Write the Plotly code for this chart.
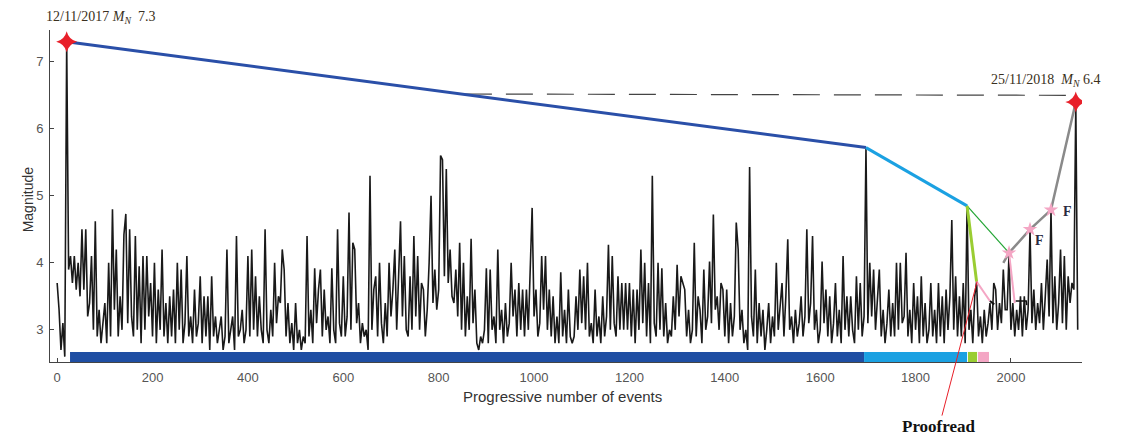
import plotly.graph_objects as go

# ---------------- data ----------------
EVENT_STEP = 4  # one value every 4 events (event number = 4 * index)
mag_0000 = [3.7,3.3,2.7,3.1,2.6,7.3,3.9,4.1,3.7,4.1,3.6,4.0,3.5,4.5,3.6,4.5,3.2,3.4,4.1,3.0,4.62,2.9,3.3,2.8,3.1]
mag_0100 = [3.4,2.8,4.0,2.9,4.8,3.3,4.2,2.9,3.5,3.0,4.42,4.73,3.1,4.5,3.2,2.9,4.4,3.0,3.95,2.8,4.1,3.0,4.1,3.2,3.7]
mag_0200 = [2.9,4.0,2.8,3.6,3.0,4.2,2.9,3.4,2.8,3.5,2.9,3.6,2.8,4.0,3.0,3.9,2.8,3.1,4.1,2.9,3.2,2.8,3.6,2.9,3.1]
mag_0300 = [3.8,2.8,3.5,2.9,3.5,2.7,3.8,2.9,3.2,2.8,3.0,3.2,2.7,2.9,4.2,2.8,3.0,3.2,2.7,4.4,2.9,3.0,3.3,2.8,3.0]
mag_0400 = [4.1,2.9,4.2,3.0,3.8,2.9,3.5,3.0,2.8,4.5,3.0,2.8,3.3,2.9,4.0,3.1,3.5,3.4,4.2,3.9,2.9,3.4,2.8,3.1,2.7]
mag_0500 = [3.4,2.8,3.0,2.7,2.9,2.8,4.4,2.9,3.3,2.8,3.92,3.1,3.6,3.9,2.9,3.6,3.0,3.2,2.8,3.92,3.0,2.8,4.5,3.1,2.9]
mag_0600 = [3.8,2.9,3.2,4.75,3.0,4.3,4.2,3.1,3.4,2.8,3.1,2.9,3.0,2.7,5.3,3.0,3.6,3.8,2.9,4.0,3.1,2.8,3.4,2.9,4.0]
mag_0700 = [3.2,3.6,4.2,3.0,3.8,4.62,3.2,4.1,3.0,2.9,3.8,3.0,4.4,3.2,4.1,3.0,3.7,3.6,2.9,3.3,4.0,5.0,3.4,3.9,3.3]
mag_0800 = [3.6,5.6,5.54,3.8,5.4,3.7,4.2,3.5,3.4,3.9,3.2,4.3,3.0,4.0,2.9,3.5,3.0,4.36,3.1,3.6,2.8,2.7,2.9,2.8,3.0]
mag_0900 = [3.92,2.8,3.9,3.0,3.2,2.8,4.2,3.0,3.3,2.8,3.4,2.9,3.1,4.0,3.2,3.6,2.9,3.7,3.0,3.6,2.9,3.6,3.0,4.0,4.82]
mag_1000 = [3.2,3.6,2.9,3.1,4.1,3.3,4.1,3.0,3.6,2.9,3.5,2.8,3.2,2.8,3.86,2.9,3.3,2.8,3.6,2.9,2.8,2.9,3.5,3.0,3.9]
mag_1100 = [3.1,3.8,3.0,4.0,2.9,3.1,2.8,3.6,2.9,3.2,2.8,3.5,2.9,3.2,4.27,3.0,4.1,3.1,2.9,3.8,3.0,3.7,3.0,3.7,3.0]
mag_1200 = [3.7,2.9,3.6,2.8,3.6,3.0,4.2,3.1,4.0,2.9,3.7,2.8,5.3,3.1,2.9,4.0,3.0,3.92,2.9,3.4,2.8,3.0,2.9,3.5,3.0]
mag_1300 = [3.97,3.2,3.8,3.7,3.6,2.9,3.3,2.8,3.0,4.3,2.9,3.5,3.3,2.8,3.9,3.0,3.2,4.02,3.1,4.72,3.3,3.5,3.0,3.7,3.6]
mag_1400 = [2.9,3.6,2.8,3.4,2.9,3.2,4.6,4.2,3.0,3.3,2.8,3.0,2.7,5.43,3.2,2.9,3.9,2.8,3.4,2.9,3.3,2.7,3.0,3.4,2.8]
mag_1500 = [3.2,2.9,4.0,3.0,3.3,3.7,2.9,3.5,4.35,3.0,3.2,2.8,3.3,2.9,3.1,3.5,2.9,3.2,4.5,3.1,3.4,4.4,3.0,3.3,2.8]
mag_1600 = [3.0,4.02,3.1,3.6,2.9,3.5,2.8,3.1,3.7,2.9,3.3,2.8,4.1,3.0,3.5,2.9,3.5,3.0,2.8,3.8,3.0,3.7,2.9,3.2,5.72]
mag_1700 = [3.1,4.0,3.2,3.9,3.0,3.5,3.9,2.9,3.3,2.8,3.1,3.6,2.9,3.4,2.9,4.0,3.0,4.0,3.1,3.2,4.15,2.9,3.3,2.8,3.7]
mag_1800 = [3.0,3.5,2.8,3.8,2.9,3.4,2.8,3.0,3.7,2.9,3.3,2.8,3.7,2.9,3.5,2.8,3.6,3.0,3.5,4.64,3.0,3.8,2.9,3.5,2.9]
mag_1900 = [3.7,2.8,4.85,3.0,3.3,2.8,3.5,3.72,2.9,3.2,2.8,3.3,2.9,3.1,3.4,3.0,3.7,3.6,3.0,3.4,3.1,3.9,3.3,3.3,4.15]
mag_2000 = [3.0,3.4,2.9,3.3,3.0,3.5,2.9,3.5,3.0,3.3,4.5,3.1,3.6,3.0,3.4,3.1,3.7,3.0,3.5,4.05,3.2,4.79,3.1,3.8,3.0]
mag_2100 = [3.4,4.2,3.1,4.1,3.0,3.8,3.4,3.7,3.6,6.4,3.0]

# chains linking events (event number, magnitude)
chain_darkblue_ev = [20, 1696];   chain_darkblue_mag = [7.3, 5.72]
chain_lightblue_ev = [1696, 1908]; chain_lightblue_mag = [5.72, 4.85]
chain_green_ev = [1908, 1996];    chain_green_mag = [4.85, 4.15]
chain_yellow_ev = [1908, 1928];   chain_yellow_mag = [4.85, 3.72]
chain_pinkA_ev = [1928, 1956];    chain_pinkA_mag = [3.72, 3.43]
chain_pinkB_ev = [1996, 2008];    chain_pinkB_mag = [4.15, 3.40]
tail_A_ev = [1956, 1965];         tail_A_mag = [3.43, 3.38]
tail_B_ev = [2010, 2032, 2033];   tail_B_mag = [3.43, 3.43, 3.37]
chain_gray_ev = [1984, 1996, 2040, 2084, 2136]
chain_gray_mag = [4.0, 4.15, 4.5, 4.79, 6.4]

foreshock_ev = [1996, 2040, 2084]; foreshock_mag = [4.15, 4.5, 4.79]
mainshock_ev = [20, 2136];         mainshock_mag = [7.3, 6.4]
mainshock_labels = ["12/11/2017 <i>M<sub>N</sub></i>  7.3", "25/11/2018  <i>M<sub>N</sub></i> 6.4"]

ref_ev = [855, 2128]; ref_mag = [6.52, 6.50]

period_start = [27, 1692, 1910, 1931]
period_end = [1692, 1908, 1929, 1954]
period_color = ["#1f4ea3", "#1ba1e2", "#9acd32", "#f4a6c4"]

x_ticks = [0, 200, 400, 600, 800, 1000, 1200, 1400, 1600, 1800, 2000]
y_ticks = [3, 4, 5, 6, 7]

# ---------------- figure ----------------
mags = (mag_0000 + mag_0100 + mag_0200 + mag_0300 + mag_0400 + mag_0500 + mag_0600 +
        mag_0700 + mag_0800 + mag_0900 + mag_1000 + mag_1100 + mag_1200 + mag_1300 +
        mag_1400 + mag_1500 + mag_1600 + mag_1700 + mag_1800 + mag_1900 + mag_2000 + mag_2100)
events = [EVENT_STEP * i for i in range(len(mags))]

fig = go.Figure()
fig.add_trace(go.Scatter(x=events, y=mags, mode="lines",
                         line=dict(color="rgba(0,0,0,0.9)", width=1.6), hoverinfo="skip"))
fig.add_trace(go.Scatter(x=ref_ev, y=ref_mag, mode="lines",
                         line=dict(color="#444", width=1.2, dash="27px,14px")))

def seg(xs, ys, color, width):
    fig.add_trace(go.Scatter(x=xs, y=ys, mode="lines", line=dict(color=color, width=width)))

seg(chain_darkblue_ev, chain_darkblue_mag, "#2a4fa8", 3)
seg(chain_lightblue_ev, chain_lightblue_mag, "#1ba1e2", 3)
seg(chain_green_ev, chain_green_mag, "#22a534", 1.2)
seg(chain_yellow_ev, chain_yellow_mag, "#9acd32", 3)
seg(chain_pinkA_ev, chain_pinkA_mag, "#f4a6c4", 2)
seg(chain_pinkB_ev, chain_pinkB_mag, "#f4a6c4", 2)
seg(tail_A_ev, tail_A_mag, "#111", 2)
seg(tail_B_ev, tail_B_mag, "#111", 1.5)
seg(chain_gray_ev, chain_gray_mag, "#8a8a8a", 2.5)

fig.add_trace(go.Scatter(x=foreshock_ev, y=foreshock_mag, mode="markers",
                         marker=dict(symbol="star", size=11, color="#f4a6c4")))
fig.add_trace(go.Scatter(x=mainshock_ev, y=mainshock_mag, mode="markers",
                         marker=dict(symbol="star-diamond", size=15, color="#e8202a")))

for s, e, c in zip(period_start, period_end, period_color):
    fig.add_shape(type="rect", xref="x", yref="y", x0=s, x1=e, y0=2.52, y1=2.67,
                  fillcolor=c, line=dict(width=0), layer="above")

serif = "Liberation Serif"
# plot area: x 50..1082 px, y 30..362 px
fig.add_annotation(xref="paper", yref="paper", x=0.049, y=1.07, xanchor="center",
                   text=mainshock_labels[0], showarrow=False,
                   font=dict(family=serif, size=14, color="#3a3020"))
fig.add_annotation(xref="paper", yref="paper", x=0.965, y=0.88, xanchor="center",
                   text=mainshock_labels[1], showarrow=False,
                   font=dict(family=serif, size=14, color="#3a3020"))
fig.add_annotation(x=2059, y=4.34, text="<b>F</b>", showarrow=False,
                   font=dict(family=serif, size=14, color="#2a2a40"))
fig.add_annotation(x=2119, y=4.76, text="<b>F</b>", showarrow=False,
                   font=dict(family=serif, size=14, color="#2a2a40"))
fig.add_annotation(x=1929, y=3.72, text="<b>Proofread</b>", showarrow=True,
                   ax=-38, ay=145, arrowhead=0, arrowcolor="#e8202a", arrowwidth=1,
                   font=dict(family=serif, size=17, color="#111"))
fig.add_annotation(xref="paper", yref="paper", x=-0.031, y=0.49, text="Magnitude",
                   textangle=-90, showarrow=False,
                   font=dict(family="Liberation Sans", size=14, color="#333"))
fig.add_annotation(xref="paper", yref="paper", x=0.497, y=-0.136,
                   text="Progressive number of events", showarrow=False,
                   font=dict(family="Liberation Sans", size=15, color="#333"))

axis_common = dict(showgrid=False, zeroline=False, showline=True, linecolor="#444",
                   linewidth=1, ticks="inside", ticklen=4, tickcolor="#444", automargin=False,
                   tickfont=dict(family="Liberation Sans", size=13, color="#555"))
fig.update_layout(
    width=1121, height=443, showlegend=False,
    margin=dict(l=50, r=39, t=30, b=81),
    plot_bgcolor="white", paper_bgcolor="white",
    xaxis=dict(range=[-15, 2149], tickvals=x_ticks, ticklabelstandoff=3, **axis_common),
    yaxis=dict(range=[2.52, 7.475], tickvals=y_ticks, ticklabelstandoff=3, **axis_common),
)
fig.write_html("out.html", config={"displayModeBar": False},
               post_script="document.body.style.margin='0';document.body.style.padding='0';")
